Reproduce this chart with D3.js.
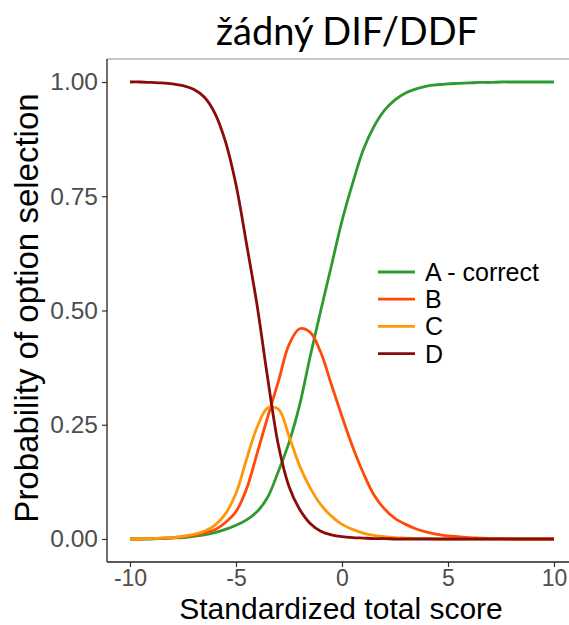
<!DOCTYPE html>
<html>
<head>
<meta charset="utf-8">
<script src="https://cdn.jsdelivr.net/npm/d3@7"></script>
<style>
  body { margin: 0; background: #fff; }
  svg { display: block; }
</style>
</head>
<body>
<div id="chart"></div>
<script>
// x grid (standardized total score) and curves
const scores = [-10, -9.5, -9, -8.5, -8, -7.5, -7, -6.5, -6, -5.5, -5, -4.5, -4, -3.5, -3, -2.5, -2, -1.5, -1, -0.5,
  0, 0.5, 1, 1.5, 2, 2.5, 3, 3.5, 4, 4.5, 5, 5.5, 6, 6.5, 7, 7.5, 8, 8.5, 9, 9.5, 10];

const probA = [0.000, 0.000, 0.000, 0.001, 0.002, 0.003, 0.006, 0.009, 0.014, 0.021, 0.030, 0.042, 0.060, 0.092, 0.148, 0.211, 0.293, 0.400, 0.500, 0.598,
  0.696, 0.778, 0.851, 0.902, 0.938, 0.961, 0.976, 0.985, 0.991, 0.994, 0.996, 0.997, 0.998, 0.999, 0.999, 1.000, 1.000, 1.000, 1.000, 1.000, 1.000];
const probB = [0.000, 0.000, 0.001, 0.002, 0.003, 0.005, 0.008, 0.013, 0.020, 0.036, 0.060, 0.110, 0.188, 0.268, 0.345, 0.425, 0.460, 0.452, 0.408, 0.338,
  0.268, 0.202, 0.145, 0.097, 0.066, 0.045, 0.032, 0.022, 0.015, 0.010, 0.007, 0.005, 0.003, 0.002, 0.001, 0.001, 0.000, 0.000, 0.000, 0.000, 0.000];
const probC = [0.000, 0.000, 0.001, 0.002, 0.003, 0.006, 0.010, 0.017, 0.030, 0.055, 0.100, 0.175, 0.245, 0.287, 0.284, 0.225, 0.160, 0.112, 0.075, 0.050,
  0.032, 0.021, 0.013, 0.008, 0.005, 0.003, 0.002, 0.001, 0.001, 0.000, 0.000, 0.000, 0.000, 0.000, 0.000, 0.000, 0.000, 0.000, 0.000, 0.000, 0.000];
const probD = [1.000, 1.000, 0.999, 0.998, 0.996, 0.992, 0.984, 0.967, 0.932, 0.870, 0.775, 0.645, 0.510, 0.350, 0.205, 0.115, 0.065, 0.034, 0.017, 0.009,
  0.005, 0.003, 0.002, 0.001, 0.001, 0.000, 0.000, 0.000, 0.000, 0.000, 0.000, 0.000, 0.000, 0.000, 0.000, 0.000, 0.000, 0.000, 0.000, 0.000, 0.000];

const options = ["A - correct", "B", "C", "D"];
const colors = ["#2f9a2f", "#ff4a0a", "#ff9808", "#8b0a0a"];
const xTicks = [-10, -5, 0, 5, 10];
const yTicks = [0, 0.25, 0.5, 0.75, 1];

const width = 569;
const height = 625;
const panel = { left: 107, right: 569, top: 59, bottom: 562 };

const svg = d3.select("#chart")
  .append("svg")
  .attr("width", width)
  .attr("height", height);

const x = d3.scaleLinear().domain([-10, 10]).range([130, 554]);
const y = d3.scaleLinear().domain([0, 1]).range([539, 82]);

// title
svg.append("text")
  .attr("x", 347)
  .attr("y", 45)
  .attr("text-anchor", "middle")
  .style("font-family", "Lato, 'Noto Sans', sans-serif")
  .style("font-size", "38px")
  .style("fill", "#000")
  .text("žádný DIF/DDF");

// frame line at the top
svg.append("line")
  .attr("x1", panel.left).attr("x2", panel.right)
  .attr("y1", panel.top).attr("y2", panel.top)
  .attr("stroke", "#b4b4b4")
  .attr("stroke-width", 1.5);

// axes
const tickFont = "'Liberation Sans', Arial, sans-serif";

const xAxis = svg.append("g")
  .attr("transform", `translate(0,${panel.bottom})`)
  .call(d3.axisBottom(x).tickValues(xTicks).tickSize(5).tickPadding(3).tickFormat(d => String(d)));

const yAxis = svg.append("g")
  .attr("transform", `translate(${panel.left},0)`)
  .call(d3.axisLeft(y).tickValues(yTicks).tickSize(5).tickPadding(4).tickFormat(d3.format(".2f")));

[xAxis, yAxis].forEach(g => {
  g.select(".domain").remove();
  g.selectAll(".tick line").attr("stroke", "#333").attr("stroke-width", 1.2);
  g.selectAll(".tick text")
    .style("font-family", tickFont)
    .style("fill", "#4d4d4d");
});
xAxis.selectAll(".tick text").style("font-size", "23px");
yAxis.selectAll(".tick text").style("font-size", "24.5px");

svg.append("line")
  .attr("x1", panel.left).attr("x2", panel.right)
  .attr("y1", panel.bottom).attr("y2", panel.bottom)
  .attr("stroke", "#222").attr("stroke-width", 1.3);
svg.append("line")
  .attr("x1", panel.left).attr("x2", panel.left)
  .attr("y1", panel.top).attr("y2", panel.bottom)
  .attr("stroke", "#222").attr("stroke-width", 1.3);

// axis titles
svg.append("text")
  .attr("x", 341)
  .attr("y", 618.5)
  .attr("text-anchor", "middle")
  .style("font-family", tickFont)
  .style("font-size", "30px")
  .text("Standardized total score");

svg.append("text")
  .attr("transform", "translate(38,308) rotate(-90)")
  .attr("text-anchor", "middle")
  .style("font-family", tickFont)
  .style("font-size", "33px")
  .text("Probability of option selection");

// curves
const series = [probA, probB, probC, probD].map((vals, i) => ({
  name: options[i],
  color: colors[i],
  values: vals.map((p, j) => ({ score: scores[j], p: p }))
}));

const line = d3.line()
  .x(d => x(d.score))
  .y(d => y(d.p))
  .curve(d3.curveCatmullRom.alpha(0.5));

svg.append("g")
  .selectAll("path")
  .data(series)
  .join("path")
  .attr("d", d => line(d.values))
  .attr("fill", "none")
  .attr("stroke", d => d.color)
  .attr("stroke-width", 2.8)
  .attr("stroke-linejoin", "round");

// legend
const legend = svg.append("g")
  .attr("transform", "translate(378,272)");

const rows = legend.selectAll("g")
  .data(series)
  .join("g")
  .attr("transform", (d, i) => `translate(0,${i * 27.2})`);

rows.append("line")
  .attr("x1", 0).attr("x2", 37)
  .attr("stroke", d => d.color)
  .attr("stroke-width", 2.8);

rows.append("text")
  .attr("x", 47)
  .attr("dy", "0.36em")
  .style("font-family", tickFont)
  .style("font-size", "25px")
  .style("fill", "#000")
  .text(d => d.name);
</script>
</body>
</html>
